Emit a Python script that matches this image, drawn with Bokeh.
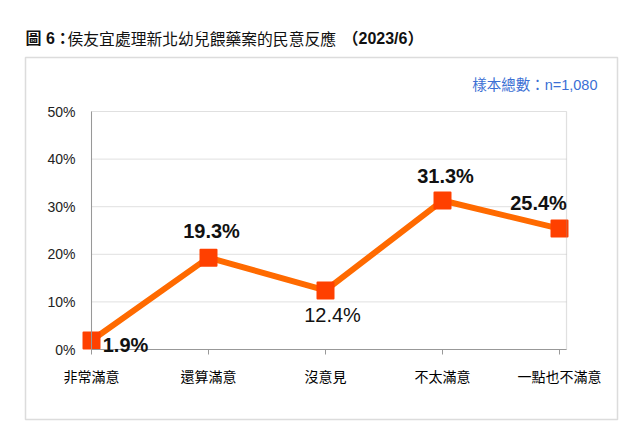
from bokeh.plotting import figure
from bokeh.models import ColumnDataSource, Label, BoxAnnotation, FixedTicker, Range1d, LinearAxis
from bokeh.core.properties import value
from bokeh.embed import file_html
from bokeh.resources import INLINE

categories = ["非常滿意", "還算滿意", "沒意見", "不太滿意", "一點也不滿意"]
values = [1.9, 19.3, 12.4, 31.3, 25.4]
value_labels = ["1.9%", "19.3%", "12.4%", "31.3%", "25.4%"]
y_ticks = [0, 10, 20, 30, 40, 50]
y_tick_labels = ["0%", "10%", "20%", "30%", "40%", "50%"]
title_parts = ["圖 6：", "侯友宜處理新北幼兒餵藥案的民意反應", "（2023/6）"]
sample_note = "樣本總數：n=1,080"

# label styling (pixel offsets from each point, weights)
label_dx = [34, 3, 7, 3, -21]
label_dy = [5, -27, 25, -25, -26]
label_weight = ["bold", "bold", "normal", "bold", "bold"]

CJK = "Noto Sans CJK TC"
LAT = "Liberation Sans, Noto Sans CJK TC"

W, H = 624, 424
# pixel layout of inner plot area
AX_LEFT, AX_ZERO = 91, 349
PX_X, PX_Y = 117.0, 4.76
X_END = 4.06

def dx(px):
    return (px - AX_LEFT) / PX_X
def dy(py):
    return (AX_ZERO - py) / PX_Y

xs = list(range(len(categories)))
src = ColumnDataSource(dict(x=xs, y=values))

p = figure(width=W, height=H, output_backend="svg", toolbar_location=None,
           x_range=Range1d(dx(0), dx(W)), y_range=Range1d(dy(H), dy(0)),
           x_axis_location=None, y_axis_location=None,
           min_border_left=0, min_border_right=0, min_border_top=0, min_border_bottom=0)
p.background_fill_color = "white"
p.border_fill_color = "white"
p.outline_line_color = None
p.xgrid.grid_line_color = None
p.ygrid.grid_line_color = None

# outer box
p.add_layout(BoxAnnotation(left=dx(25), right=dx(617), bottom=dy(419), top=dy(57),
                           fill_alpha=0, line_color="#8c8c8c", line_width=1.5))

# grid lines
grid_y = [t for t in y_ticks if 0 < t < max(y_ticks)]
p.segment(x0=[0] * len(grid_y), x1=[X_END] * len(grid_y), y0=grid_y, y1=grid_y,
          line_color="#e0e0e0", line_width=1)

# inner plot frame
p.add_layout(BoxAnnotation(left=0, right=X_END, bottom=0, top=max(y_ticks),
                           fill_alpha=0, line_color="#999999", line_width=1.2))

yaxis = LinearAxis(fixed_location=0, bounds=(0, max(y_ticks)))
yaxis.ticker = FixedTicker(ticks=y_ticks)
yaxis.major_label_overrides = {t: l for t, l in zip(y_ticks, y_tick_labels)}
yaxis.major_tick_line_color = None
yaxis.minor_tick_line_color = None
yaxis.axis_line_color = "#999999"
yaxis.major_label_text_font = LAT
yaxis.major_label_text_font_size = "14px"
yaxis.major_label_text_color = "#222222"
yaxis.major_label_standoff = 10
p.add_layout(yaxis, "left")

xaxis = LinearAxis(fixed_location=0, bounds=(0, X_END))
xaxis.ticker = FixedTicker(ticks=xs)
xaxis.major_label_overrides = {i: c for i, c in zip(xs, categories)}
xaxis.major_tick_line_color = "#999999"
xaxis.major_tick_in = 0
xaxis.major_tick_out = 5
xaxis.minor_tick_line_color = None
xaxis.axis_line_color = "#999999"
xaxis.major_label_text_font = CJK
xaxis.major_label_text_font_size = "14px"
xaxis.major_label_text_color = "#000000"
xaxis.major_label_standoff = 11
p.add_layout(xaxis, "below")

p.line("x", "y", source=src, line_color="#FF6A00", line_width=6)
p.scatter("x", "y", source=src, marker="square", size=16, fill_color="#FF4000", line_color="#FF4000",
          line_width=2, line_join="round")

for i in range(len(values)):
    p.add_layout(Label(x=xs[i], y=values[i], text=value_labels[i], x_offset=label_dx[i], y_offset=-label_dy[i],
                       text_align="center", text_baseline="middle", text_font=LAT,
                       text_font_size="20px", text_font_style=label_weight[i], text_color="#111111"))

p.add_layout(Label(x=dx(25), y=dy(38), text=title_parts[0], text_align="left", text_baseline="middle",
                   text_font=LAT, text_font_size="16px", text_font_style="bold", text_color="#111111"))
p.add_layout(Label(x=dx(67), y=dy(38), text=title_parts[1], text_align="left", text_baseline="middle",
                   text_font=CJK, text_font_size="15.8px", text_color="#111111"))
p.add_layout(Label(x=dx(342), y=dy(38), text=title_parts[2], text_align="left", text_baseline="middle",
                   text_font=LAT, text_font_size="16px", text_font_style="bold", text_color="#111111"))
p.add_layout(Label(x=dx(597), y=dy(84), text=sample_note, text_align="right", text_baseline="middle",
                   text_font=LAT, text_font_size="14.5px", text_color="#3B6FD4"))

open("out.html", "w").write(file_html(p, INLINE))
